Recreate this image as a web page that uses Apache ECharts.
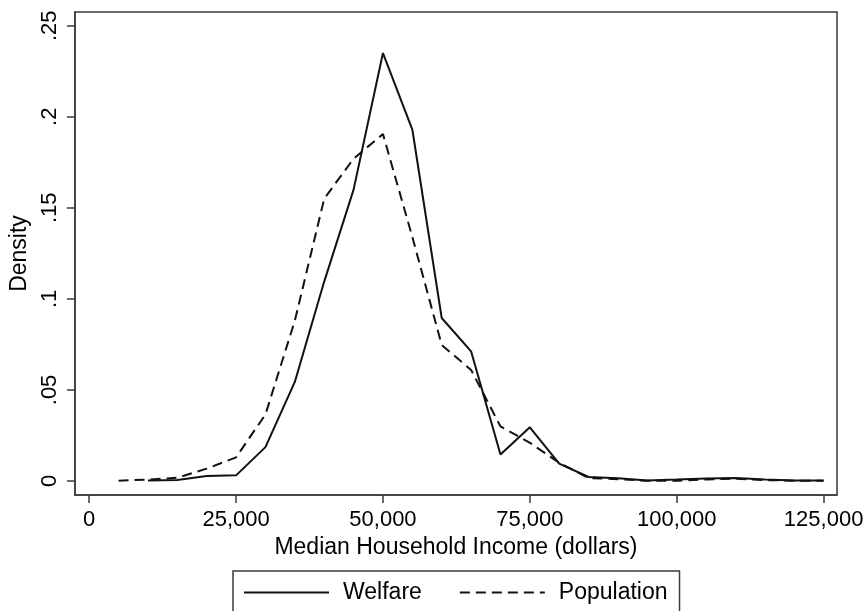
<!DOCTYPE html>
<html>
<head>
<meta charset="utf-8">
<script src="https://cdn.jsdelivr.net/npm/echarts@6/dist/echarts.min.js"></script>
<style>
html,body{margin:0;padding:0;background:#fff;}
#chart{width:867px;height:611px;}
</style>
</head>
<body>
<div id="chart"></div>
<script>
// Data
const welfareX = [10000,15000,20000,25000,30000,35000,40000,45000,50000,55000,60000,65000,70000,75000,80000,85000,90000,95000,100000,105000,110000,115000,120000,125000];
const welfareY = [0.0003,0.0006,0.0027,0.0031,0.0186,0.0544,0.1095,0.1600,0.2350,0.1930,0.0895,0.0712,0.0145,0.0295,0.0095,0.0022,0.0015,0.0003,0.0008,0.0014,0.0016,0.0008,0.0003,0.0003];
const populationX = [5000,10000,15000,20000,25000,30000,35000,40000,45000,50000,55000,60000,65000,70000,75000,80000,85000,90000,95000,100000,105000,110000,115000,120000,125000];
const populationY = [0.0002,0.0008,0.0018,0.0068,0.0130,0.0365,0.0880,0.1550,0.1770,0.1905,0.1340,0.0747,0.0610,0.0300,0.0210,0.0100,0.0016,0.0010,0.0001,0.0002,0.0008,0.0013,0.0005,0.0002,0.0001];
const xTickValues = [0,25000,50000,75000,100000,125000];
const xTickLabels = ['0','25,000','50,000','75,000','100,000','125,000'];
const yTickValues = [0,0.05,0.1,0.15,0.2,0.25];
const yTickLabels = ['0','.05','.1','.15','.2','.25'];

const FONT = 'Liberation Sans, Arial, sans-serif';
const chart = echarts.init(document.getElementById('chart'), null, {renderer:'canvas'});
function labelFor(values, labels){
  return function(v){
    for (let i=0;i<values.length;i++){ if (Math.abs(values[i]-v) < 1e-9*Math.max(1,Math.abs(values[i]))) return labels[i]; }
    return '';
  };
}
chart.setOption({
  animation:false,
  backgroundColor:'#ffffff',
  grid:{left:74, top:12, right:30, bottom:116, show:true, borderColor:'#3a3a3a', borderWidth:1.5, containLabel:false},
  xAxis:{
    type:'value', min:-2432, max:127279,
    name:'Median Household Income (dollars)', nameLocation:'middle', nameGap:40,
    nameTextStyle:{fontFamily:FONT, fontSize:23, color:'#000'},
    axisLine:{show:true, onZero:false, lineStyle:{color:'#3a3a3a', width:1.5}},
    axisTick:{show:true, length:8, customValues:xTickValues, lineStyle:{color:'#3a3a3a', width:1.5}},
    axisLabel:{customValues:xTickValues, formatter:labelFor(xTickValues,xTickLabels), margin:14, fontFamily:FONT, fontSize:22, color:'#000'},
    splitLine:{show:false}
  },
  yAxis:{
    type:'value', min:-0.00769, max:0.25753,
    name:'Density', nameLocation:'middle', nameGap:37,
    nameTextStyle:{fontFamily:FONT, fontSize:23, color:'#000'},
    axisLine:{show:true, onZero:false, lineStyle:{color:'#3a3a3a', width:1.5}},
    axisTick:{show:true, length:8, customValues:yTickValues, lineStyle:{color:'#3a3a3a', width:1.5}},
    axisLabel:{customValues:yTickValues, formatter:labelFor(yTickValues,yTickLabels), rotate:90, margin:14, fontFamily:FONT, fontSize:22, color:'#000'},
    splitLine:{show:false}
  },
  legend:{
    left:233, top:571, orient:'horizontal',
    padding:[10,12,10,10], itemGap:37, itemWidth:85, itemHeight:14,
    borderColor:'#3a3a3a', borderWidth:1.5, borderRadius:0,
    itemStyle:{opacity:0},
    textStyle:{fontFamily:FONT, fontSize:23, color:'#000', padding:[0,0,0,9]},
    data:['Welfare','Population']
  },
  series:[
    {name:'Welfare', type:'line', symbol:'none', data:welfareX.map((x,i)=>[x,welfareY[i]]),
     lineStyle:{color:'#111', width:2, type:'solid'}, itemStyle:{color:'#111'}},
    {name:'Population', type:'line', symbol:'none', data:populationX.map((x,i)=>[x,populationY[i]]),
     lineStyle:{color:'#111', width:2, type:[10,6]}, itemStyle:{color:'#111'}}
  ]
});
</script>
</body>
</html>
